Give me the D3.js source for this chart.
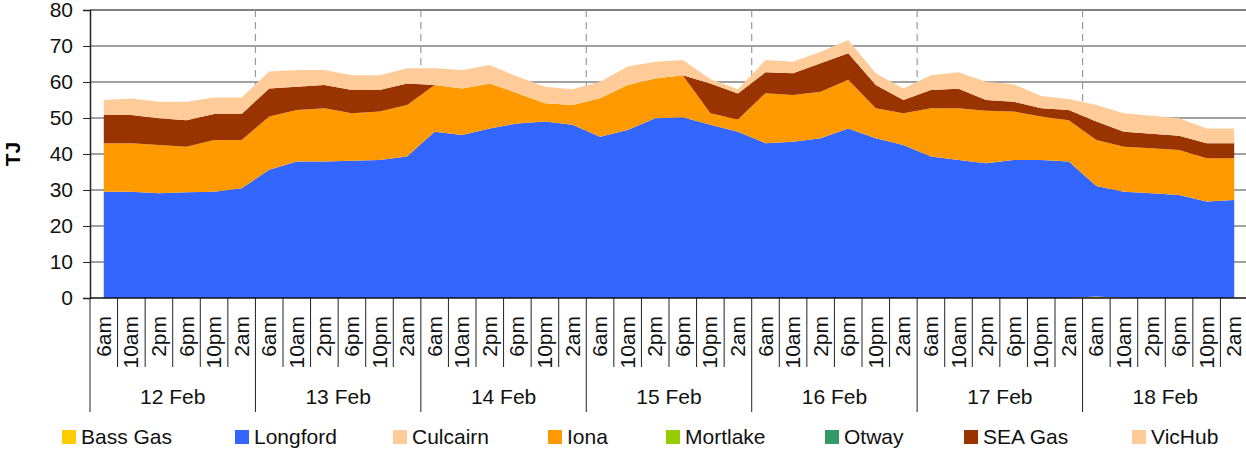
<!DOCTYPE html>
<html>
<head>
<meta charset="utf-8">
<script src="https://cdn.jsdelivr.net/npm/d3@7"></script>
<style>
body { margin: 0; background: #fff; }
text { font-family: "Liberation Sans", Arial, sans-serif; }
</style>
</head>
<body>
<div id="chart"></div>
<script>
//Categories
var days = ["12 Feb", "13 Feb", "14 Feb", "15 Feb", "16 Feb", "17 Feb", "18 Feb"];
var hours = ["6am", "10am", "2pm", "6pm", "10pm", "2am"];
var yTicks = [0, 10, 20, 30, 40, 50, 60, 70, 80];

//Series (TJ), one value per 4-hour slot
var bassGas = [0,0,0,0,0,0, 0,0,0,0,0,0, 0,0,0,0,0,0, 0,0,0,0,0,0, 0,0,0,0,0,0, 0,0,0,0,0,0, 0.4,0,0,0,0,0];
var longford = [29.5,29.5,29.1,29.4,29.5,30.5, 35.6,37.9,37.9,38.1,38.3,39.3, 46.2,45.3,47.1,48.5,49.0,48.1,
  44.8,46.7,49.9,50.2,48.1,46.2, 43.0,43.4,44.4,47.1,44.4,42.5, 39.3,38.3,37.4,38.3,38.3,37.9, 30.7,29.5,29.1,28.6,26.8,27.2];
var culcairn = [0,0,0,0,0,0, 0,0,0,0,0,0, 0,0,0,0,0,0, 0,0,0,0,0,0, 0,0,0,0,0,0, 0,0,0,0,0,0, 0,0,0,0,0,0];
var iona = [13.5,13.5,13.4,12.6,14.4,13.4, 14.8,14.3,14.8,13.2,13.5,14.3, 13.0,12.9,12.5,8.4,5.1,5.5,
  10.7,12.5,11.1,11.7,3.2,3.4, 13.9,13.0,12.9,13.5,8.3,8.8, 13.4,14.4,14.6,13.5,12.1,11.5, 12.8,12.5,12.5,12.5,12.0,11.6];
var mortlake = [0,0,0,0,0,0, 0,0,0,0,0,0, 0,0,0,0,0,0, 0,0,0,0,0,0, 0,0,0,0,0,0, 0,0,0,0,0,0, 0,0,0,0,0,0];
var otway = [0,0,0,0,0,0, 0,0,0,0,0,0, 0,0,0,0,0,0, 0,0,0,0,0,0, 0,0,0,0,0,0, 0,0,0,0,0,0, 0,0,0,0,0,0];
var seaGas = [7.8,7.8,7.4,7.4,7.2,7.2, 7.8,6.5,6.5,6.5,6.0,6.0, 0,0,0,0,0,0,
  0,0,0,0,8.3,7.2, 5.8,6.0,7.9,7.4,6.5,3.7, 5.1,5.4,3.0,2.7,2.3,2.8, 5.1,4.2,4.0,4.0,4.2,4.2];
var vicHub = [4.2,4.6,4.6,5.1,4.6,4.6, 4.7,4.6,4.1,4.1,4.1,4.2, 4.6,5.1,5.1,4.6,4.6,4.4,
  4.6,5.1,4.6,4.2,1.2,1.2, 3.4,3.2,3.2,3.7,3.2,3.2, 4.1,4.6,5.1,4.9,3.4,3.1, 4.6,5.1,5.0,4.8,4.1,4.1];

var seriesNames = ["Bass Gas", "Longford", "Culcairn", "Iona", "Mortlake", "Otway", "SEA Gas", "VicHub"];
var seriesValues = [bassGas, longford, culcairn, iona, mortlake, otway, seaGas, vicHub];
var seriesColors = ["#FFCC00", "#3366FF", "#FFCC99", "#FF9900", "#99CC00", "#339966", "#993300", "#FFCC99"];

//Width and height
var w = 1246;
var h = 450;
var plotLeft = 90, plotRight = 1248, plotTop = 10, plotBottom = 298;
var fontSize = "21px";

//Build rows for the stack
var rows = [];
days.forEach(function(d, di) {
  hours.forEach(function(hr, hi) {
    var i = di * hours.length + hi;
    var row = { i: i, day: d, hour: hr };
    seriesNames.forEach(function(name, s) { row[name] = seriesValues[s][i]; });
    rows.push(row);
  });
});

var stacked = d3.stack().keys(seriesNames)(rows);

//Scales
var xScale = d3.scaleBand()
  .domain(rows.map(function(d) { return d.i; }))
  .range([plotLeft, plotRight])
  .padding(0);

var yScale = d3.scaleLinear()
  .domain([0, 80])
  .range([plotBottom, plotTop]);

var bw = xScale.bandwidth();
var daySpan = bw * hours.length;

var svg = d3.select("#chart")
  .append("svg")
  .attr("width", w)
  .attr("height", h);

//Gridlines
svg.append("g")
  .selectAll("line")
  .data(yTicks.filter(function(t) { return t > 0 && t < 80; }))
  .enter()
  .append("line")
  .attr("x1", plotLeft)
  .attr("x2", plotRight)
  .attr("y1", function(d) { return yScale(d); })
  .attr("y2", function(d) { return yScale(d); })
  .attr("stroke", "#444")
  .attr("stroke-width", 1);

//Top border
svg.append("line")
  .attr("x1", plotLeft).attr("x2", plotRight)
  .attr("y1", yScale(80)).attr("y2", yScale(80))
  .attr("stroke", "#808080")
  .attr("stroke-width", 2);

//Dashed day separators
svg.append("g")
  .selectAll("line")
  .data(days.slice(1))
  .enter()
  .append("line")
  .attr("x1", function(d, k) { return xScale((k + 1) * hours.length); })
  .attr("x2", function(d, k) { return xScale((k + 1) * hours.length); })
  .attr("y1", plotTop)
  .attr("y2", plotBottom)
  .attr("stroke", "#999")
  .attr("stroke-width", 1.2)
  .attr("stroke-dasharray", "7,5");

//Areas
var area = d3.area()
  .x(function(d) { return xScale(d.data.i) + bw / 2; })
  .y0(function(d) { return yScale(d[0]); })
  .y1(function(d) { return yScale(d[1]); });

svg.append("g")
  .selectAll("path")
  .data(stacked)
  .enter()
  .append("path")
  .attr("d", area)
  .attr("fill", function(d, k) { return seriesColors[k]; });

//Y axis
var yAxis = d3.axisLeft(yScale)
  .tickValues(yTicks)
  .tickSize(7)
  .tickPadding(10);

var gy = svg.append("g")
  .attr("transform", "translate(" + plotLeft + ",0)")
  .call(yAxis);
gy.select(".domain").attr("stroke", "#222").attr("stroke-width", 1.5);
gy.selectAll(".tick line").attr("stroke", "#222");
gy.selectAll("text")
  .attr("font-size", fontSize)
  .attr("fill", "#111")
  .style("font-family", "'Liberation Sans', Arial, sans-serif");

//Y title
svg.append("text")
  .attr("transform", "translate(20," + ((plotTop + plotBottom) / 2) + ") rotate(-90)")
  .attr("text-anchor", "middle")
  .attr("font-size", fontSize)
  .attr("font-weight", "bold")
  .text("TJ");

//X axis baseline
svg.append("line")
  .attr("x1", plotLeft).attr("x2", plotRight)
  .attr("y1", plotBottom).attr("y2", plotBottom)
  .attr("stroke", "#111")
  .attr("stroke-width", 1.5);

//Hour separators
svg.append("g")
  .selectAll("line")
  .data(rows.filter(function(d) { return d.i % hours.length != 0; }))
  .enter()
  .append("line")
  .attr("x1", function(d) { return xScale(d.i); })
  .attr("x2", function(d) { return xScale(d.i); })
  .attr("y1", plotBottom)
  .attr("y2", 367)
  .attr("stroke", "#222");

//Day separators
svg.append("g")
  .selectAll("line")
  .data(d3.range(days.length + 1))
  .enter()
  .append("line")
  .attr("x1", function(k) { return plotLeft + k * daySpan; })
  .attr("x2", function(k) { return plotLeft + k * daySpan; })
  .attr("y1", plotBottom)
  .attr("y2", 412)
  .attr("stroke", "#222");

//Hour labels
svg.append("g")
  .selectAll("text")
  .data(rows)
  .enter()
  .append("text")
  .attr("transform", function(d) {
    return "translate(" + (xScale(d.i) + bw / 2 + 7) + ",316) rotate(-90)";
  })
  .attr("text-anchor", "end")
  .attr("font-size", fontSize)
  .attr("fill", "#111")
  .text(function(d) { return d.hour; });

//Day labels
svg.append("g")
  .selectAll("text")
  .data(days)
  .enter()
  .append("text")
  .attr("x", function(d, k) { return plotLeft + k * daySpan + daySpan / 2; })
  .attr("y", 404)
  .attr("text-anchor", "middle")
  .attr("font-size", fontSize)
  .attr("fill", "#111")
  .text(function(d) { return d; });

//Legend
var legendX = [62, 235, 393, 548, 666, 825, 964, 1132];
var lg = svg.append("g")
  .selectAll("g")
  .data(seriesNames)
  .enter()
  .append("g")
  .attr("transform", function(d, k) { return "translate(" + legendX[k] + ",430)"; });

lg.append("rect")
  .attr("width", 14)
  .attr("height", 14)
  .attr("fill", function(d, k) { return seriesColors[k]; });

lg.append("text")
  .attr("x", 19)
  .attr("y", 14)
  .attr("font-size", fontSize)
  .attr("fill", "#111")
  .text(function(d) { return d; });
</script>
</body>
</html>
